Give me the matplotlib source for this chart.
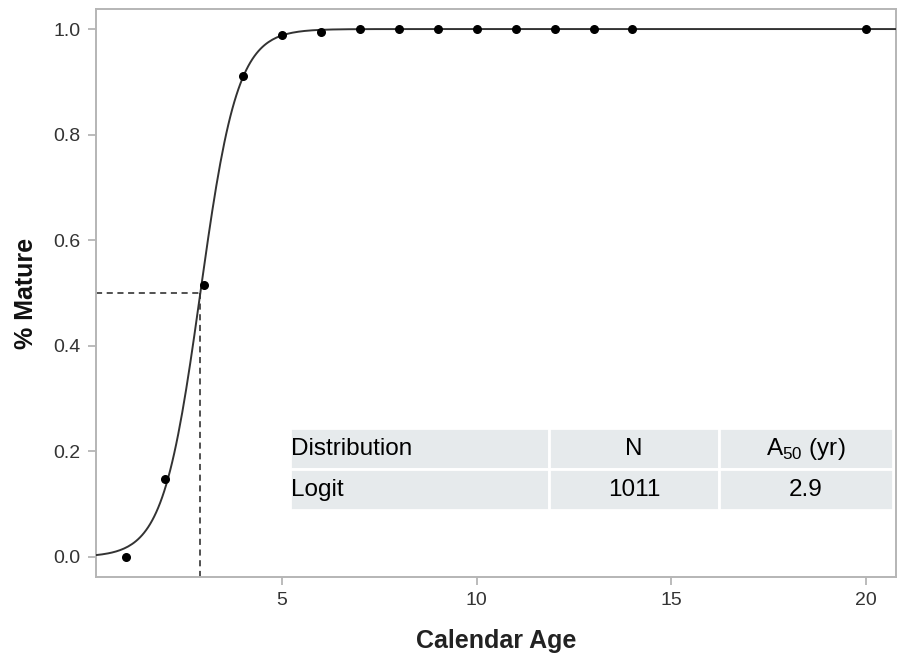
import matplotlib.pyplot as plt
import numpy as np

plt.rcParams['font.family'] = ['Liberation Sans', 'DejaVu Sans']
plt.rcParams['mathtext.fontset'] = 'custom'
plt.rcParams['mathtext.rm'] = 'Liberation Sans'

# observed proportion mature by age
ages = [1, 2, 3, 4, 5, 6, 7, 8, 9, 10, 11, 13, 12, 14, 20]
mature = [0.0, 0.148, 0.515, 0.912, 0.989, 0.995, 1.0, 1.0, 1.0, 1.0, 1.0, 1.0, 1.0, 1.0, 1.0]

# logistic fit
a50 = 2.9
slope = 2.1

table_cols = ['Distribution', 'N', 'A$_{50}$ (yr)']
table_vals = ['Logit', '1011', '2.9']

fig = plt.figure(figsize=(9.04, 6.61), dpi=100)
ax = fig.add_axes([0.1062, 0.127, 0.885, 0.8594])

xs = np.linspace(0.22, 20.77, 400)
ys = 1 / (1 + np.exp(-slope * (xs - a50)))
ax.plot(xs, ys, color='#333333', lw=1.4, zorder=3)
ax.scatter(ages, mature, s=30, color='black', zorder=4)

ax.plot([0.22, a50], [0.5, 0.5], color='#222222', lw=1.1, ls=(0, (4, 3)))
ax.plot([a50, a50], [-0.038, 0.5], color='#222222', lw=1.1, ls=(0, (4, 3)))

ax.set_xlim(0.22, 20.77)
ax.set_ylim(-0.038, 1.038)
ax.set_xticks([5, 10, 15, 20])
ax.set_yticks([0.0, 0.2, 0.4, 0.6, 0.8, 1.0])
ax.set_yticklabels(['0.0', '0.2', '0.4', '0.6', '0.8', '1.0'])
for s in ax.spines.values():
    s.set_color('#b5b5b5')
    s.set_linewidth(1.4)
ax.tick_params(colors='#b5b5b5', labelcolor='#333333', labelsize=14, length=6, width=1.3, pad=5)

ax.set_xlabel('Calendar Age', fontsize=18, fontweight='bold', color='#222222', labelpad=14)
ax.set_ylabel('% Mature', fontsize=18, fontweight='bold', color='#111111', labelpad=11)

tab = ax.table(cellText=[table_cols, table_vals],
               colWidths=[256, 169, 172],
               bbox=[0.2425, 0.118, 0.7535, 0.144])
tab.auto_set_font_size(False)
for (r, c), cell in tab.get_celld().items():
    cell.set_facecolor('#e6eaec')
    cell.set_edgecolor('white')
    cell.set_linewidth(2)
    cell.get_text().set_fontsize(17.5)
    if c == 0:
        cell.get_text().set_ha('left')
        cell.PAD = 0.005
    else:
        cell.get_text().set_ha('center')

fig.savefig('out.png', dpi=100)
